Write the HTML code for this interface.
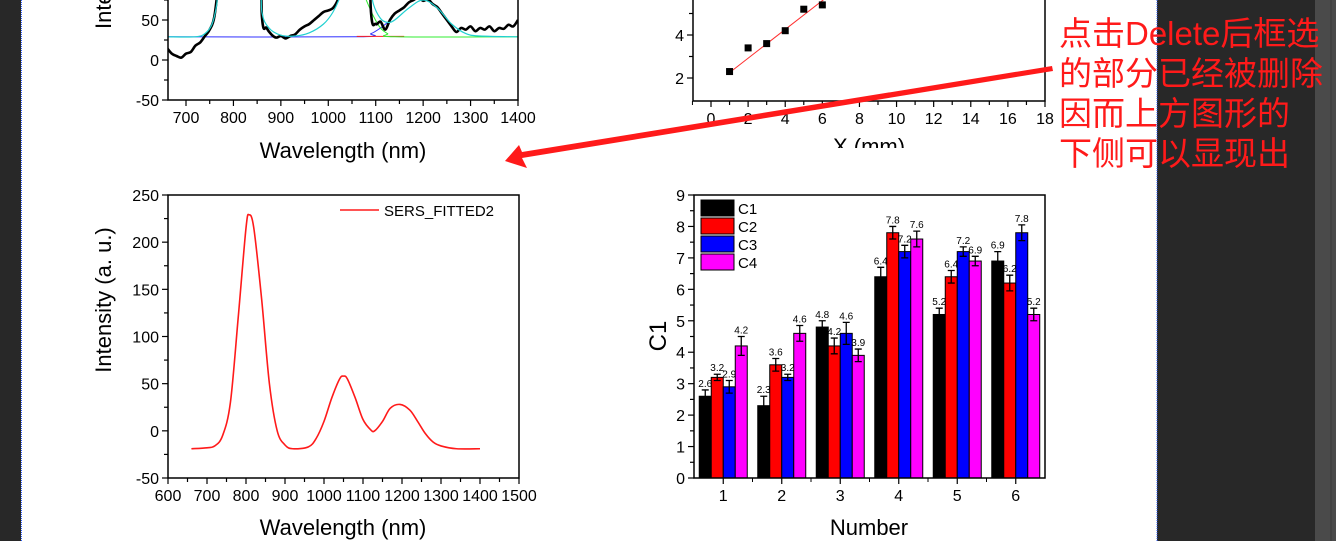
<!DOCTYPE html>
<html><head><meta charset="utf-8">
<style>
html,body{margin:0;padding:0;background:#fff;}
svg{display:block;font-family:"Liberation Sans","Noto Sans CJK SC",sans-serif;}
</style></head>
<body>
<svg id="s" width="1336" height="541" viewBox="0 0 1336 541" xmlns="http://www.w3.org/2000/svg">
<rect x="0" y="0" width="1336" height="541" fill="#fff"/>
<rect x="0" y="0" width="21" height="541" fill="#282828"/>
<line x1="21.5" y1="0" x2="21.5" y2="541" stroke="#3060ff" stroke-dasharray="1,1"/>
<rect x="1157" y="0" width="158" height="541" fill="#282828"/>
<rect x="1315" y="0" width="21" height="541" fill="#4a4a4a"/>
<line x1="1331" y1="0" x2="1331" y2="541" stroke="#3a3a3a"/>
<line x1="1157" y1="0" x2="1157" y2="541" stroke="#3060ff" stroke-dasharray="1,1"/>
<g id="g"></g>
</svg>
<script>
// ---------- Top-left spectrum data ----------
const specX = [660,670,680,690,700,710,720,730,740,750,760,770,780,850,860,870,880,890,900,910,920,930,940,950,960,970,980,990,1000,1010,1020,1030,1040,1080,1090,1100,1110,1120,1130,1140,1150,1160,1170,1180,1190,1200,1210,1220,1230,1240,1250,1260,1270,1280,1290,1300,1310,1320,1330,1340,1350,1360,1370,1380,1390,1400];
const specY = [15,8,5,3,8,10,18,22,30,38,55,110,200,200,55,40,32,28,30,27,30,32,38,42,45,50,55,60,62,65,75,95,200,200,60,45,48,38,50,58,62,66,72,75,78,74,76,70,66,58,50,42,35,40,38,42,36,40,38,42,36,40,39,44,42,50];
const fitX = [660,720,740,755,765,775,850,860,875,900,930,960,990,1010,1025,1035,1080,1095,1110,1125,1140,1170,1200,1230,1260,1290,1320,1400];
const fitY = [29,29,33,45,70,120,120,60,40,31,30,34,45,60,80,110,110,70,52,47,50,65,75,65,45,33,30,29];
const blueX = [660,1060,1090,1110,1125];
const blueY = [29,29,33,40,47];
const redX = [1060,1160];
const redY = [29.5,29.5];
const greenX = [1080,1095,1110,1125,1140,1400];
const greenY = [75,55,40,33,29,29];
// ---------- Top-right scatter data ----------
const ptX = [1,2,3,4,5,6];
const ptY = [2.3,3.4,3.6,4.2,5.2,5.4];
const lineX = [1,6.3];
const lineY = [2.25,5.8];
// ---------- Bottom-left fitted curve ----------
const curveX = [660,700,720,740,760,780,800,808,820,840,860,880,900,920,960,980,1000,1020,1040,1050,1060,1080,1100,1120,1130,1150,1170,1195,1220,1240,1260,1280,1300,1340,1400];
const curveY = [-19,-18,-16,-5,30,120,215,229,215,140,50,0,-15,-19,-17,-8,10,35,55,58,55,35,12,1,0,10,24,28,22,10,-3,-12,-16,-19,-19];
// ---------- Bar chart data ----------
const barCats = ["1","2","3","4","5","6"];
const seriesNames = ["C1","C2","C3","C4"];
const c1 = [2.6,2.3,4.8,6.4,5.2,6.9];
const c2 = [3.2,3.6,4.2,7.8,6.4,6.2];
const c3 = [2.9,3.2,4.6,7.2,7.2,7.8];
const c4 = [4.2,4.6,3.9,7.6,6.9,5.2];
const e1 = [0.2,0.3,0.2,0.3,0.2,0.3];
const e2 = [0.1,0.2,0.25,0.2,0.2,0.25];
const e3 = [0.2,0.1,0.35,0.2,0.15,0.25];
const e4 = [0.3,0.25,0.2,0.25,0.15,0.2];
const barLabels1 = ["2.6","2.3","4.8","6.4","5.2","6.9"];
const barLabels2 = ["3.2","3.6","4.2","7.8","6.4","6.2"];
const barLabels3 = ["2.9","3.2","4.6","7.2","7.2","7.8"];
const barLabels4 = ["4.2","4.6","3.9","7.6","6.9","5.2"];

const NS="http://www.w3.org/2000/svg";
const G=document.getElementById('g');
function mk(tag,attrs,parent){const e=document.createElementNS(NS,tag);for(const k in attrs)e.setAttribute(k,attrs[k]);(parent||G).appendChild(e);return e;}
function txt(x,y,s,size,anchor,parent){const t=mk('text',{x:x,y:y,'font-size':size,'text-anchor':anchor||'middle',fill:'#000'},parent);t.textContent=s;return t;}
function lin(a,b,c,d){return (v)=>c+(v-a)*(d-c)/(b-a);}
function smooth(pts){let d='M'+pts[0][0]+','+pts[0][1];for(let i=0;i<pts.length-1;i++){const p0=pts[Math.max(0,i-1)],p1=pts[i],p2=pts[i+1],p3=pts[Math.min(pts.length-1,i+2)];const c1x=p1[0]+(p2[0]-p0[0])/6,c1y=p1[1]+(p2[1]-p0[1])/6,c2x=p2[0]-(p3[0]-p1[0])/6,c2y=p2[1]-(p3[1]-p1[1])/6;d+=' C'+c1x+','+c1y+' '+c2x+','+c2y+' '+p2[0]+','+p2[1];}return d;}
function ticksX(g,sx,y0,from,to,step,minor,labels,fs){for(let v=from;v<=to+1e-9;v+=minor){const major=Math.abs((v-from)/step-Math.round((v-from)/step))<1e-6;const l=mk('line',{x1:sx(v),x2:sx(v),y1:y0,y2:y0+(major?6:4),stroke:'#000','stroke-width':1.2},g);if(major&&labels){const t=txt(sx(v),y0+23,String(Math.round(v*100)/100),fs||16,'middle',g);}}}
function ticksY(g,sy,x0,from,to,step,minor,fs,ylimTop){for(let v=from;v<=to+1e-9;v+=minor){const yy=sy(v);if(ylimTop!==undefined&&yy<ylimTop)continue;const major=Math.abs((v-from)/step-Math.round((v-from)/step))<1e-6;const l=mk('line',{x1:x0-(major?6:4),x2:x0,y1:yy,y2:yy,stroke:'#000','stroke-width':1.2},g);if(major){const t=txt(x0-9,yy+6,String(Math.round(v*100)/100),fs||16,'end',g);}}}

// ================= Top-left chart =================
(function(){
const g=mk('g',{});
const sx=lin(700,1400,186,518), sy=lin(0,50,60,20);
const L=168,R=518,B=100;
mk('defs',{},g).innerHTML='<clipPath id="c1"><rect x="168" y="0" width="350" height="100"/></clipPath>';
const pg=mk('g',{'clip-path':'url(#c1)'},g);
const lines=[[blueX,blueY,'#3030ff',1],[redX,redY,'#ff2020',1],[greenX,greenY,'#30ee30',1],[specX,specY,'#000',2.6],[fitX,fitY,'#20d0d0',1.2]];
const names=['baseline-blue','peak-red','peak-green','raw-spectrum','cumulative-fit'];
lines.forEach((s,i)=>{const p=mk('path',{d:smooth(s[0].map((x,j)=>[sx(x),sy(s[1][j])])),fill:'none',stroke:s[2],'stroke-width':s[3],'stroke-linejoin':'round'},pg);});
const ax=mk('path',{d:`M${L},0 V${B} H${R} V0`,fill:'none',stroke:'#000','stroke-width':1.5},g);
ticksX(g,sx,B,700,1400,100,50,true,16);
ticksY(g,sy,L,-50,100,50,25,16,0);
const xt=txt(343,158,'Wavelength (nm)',22,'middle',g);
const yt=txt(0,0,'Intensity (a. u.)',22,'start',g);yt.setAttribute('transform','translate(111,29) rotate(-90)');
})();

// ================= Top-right chart =================
(function(){
const g=mk('g',{});
const sx=lin(0,18,711,1045), sy=lin(2,4,78,35);
const L=693,R=1045,B=101;
mk('defs',{},g).innerHTML='<clipPath id="c2"><rect x="693" y="0" width="352" height="101"/></clipPath><clipPath id="c3"><rect x="600" y="0" width="500" height="148"/></clipPath>';
const pg=mk('g',{'clip-path':'url(#c2)'},g);
const fl=mk('line',{x1:sx(lineX[0]),y1:sy(lineY[0]),x2:sx(lineX[1]),y2:sy(lineY[1]),stroke:'#ff3030','stroke-width':1},pg);
ptX.forEach((x,i)=>{const r=mk('rect',{x:sx(x)-3.5,y:sy(ptY[i])-3.5,width:7,height:7,fill:'#000'},pg);});
const ax=mk('path',{d:`M${L},0 V${B} H${R} V0`,fill:'none',stroke:'#000','stroke-width':1.5},g);
ticksX(g,sx,B,0,18,2,1,true,16);
mk('line',{x1:sx(-1),x2:sx(-1),y1:B,y2:B+4,stroke:'#000'},g);
ticksY(g,sy,L,2,6,2,1,16,0);
const cg=mk('g',{'clip-path':'url(#c3)'},g);
const xt=txt(869,154,'X (mm)',22,'middle',cg);
})();

// ================= Bottom-left chart =================
(function(){
const g=mk('g',{});
const sx=lin(600,1500,168,519), sy=lin(-50,250,478,195);
const L=168,R=519,T=195,B=478;
const p=mk('path',{d:smooth(curveX.map((x,i)=>[sx(x),sy(curveY[i])])),fill:'none',stroke:'#ff1a1a','stroke-width':1.6},g);
const ax=mk('rect',{x:L,y:T,width:R-L,height:B-T,fill:'none',stroke:'#000','stroke-width':1.5},g);
ticksX(g,sx,B,600,1500,100,50,true,16);
ticksY(g,sy,L,-50,250,50,25,16);
const lg=mk('g',{},g);
mk('line',{x1:340,x2:379,y1:210,y2:210,stroke:'#ff1a1a','stroke-width':1.6},lg);
txt(384,216,'SERS_FITTED2',15,'start',lg);
const xt=txt(343,535,'Wavelength (nm)',22,'middle',g);
const yt=txt(0,0,'Intensity (a. u.)',22,'middle',g);yt.setAttribute('transform','translate(111,300) rotate(-90)');
})();

// ================= Bar chart =================
(function(){
const g=mk('g',{});
const sx=lin(0.5,6.5,694,1045), sy=lin(0,9,478,195);
const L=694,R=1045,T=195,B=478;
const vals=[c1,c2,c3,c4], errs=[e1,e2,e3,e4], labs=[barLabels1,barLabels2,barLabels3,barLabels4];
const cols=['#000','#ff0000','#0000ff','#ff00ff'];
const bw=12;
barCats.forEach((c,i)=>{
  const cx=sx(i+1);
  vals.forEach((sv,k)=>{
    const x=cx-2*bw+k*bw, y=sy(sv[i]);
    const r=mk('rect',{x:x,y:y,width:bw,height:B-y,fill:cols[k],stroke:'#000','stroke-width':1},g);
    
    
    const ec=x+bw/2, yt=sy(sv[i]+errs[k][i]), yb=sy(sv[i]-errs[k][i]);
    const eb=mk('path',{d:`M${ec},${yt} V${yb} M${ec-3.5},${yt} H${ec+3.5} M${ec-3.5},${yb} H${ec+3.5}`,stroke:'#000','stroke-width':1.3,fill:'none'},g);
    
    
    const t=txt(ec,yt-3,labs[k][i],10,'middle',g);
    
    
  });
});
const ax=mk('rect',{x:L,y:T,width:R-L,height:B-T,fill:'none',stroke:'#000','stroke-width':1.5},g);
barCats.forEach((c,i)=>{const x=sx(i+1);mk('line',{x1:x,x2:x,y1:B,y2:B+6,stroke:'#000','stroke-width':1.2},g);const t=txt(x,B+23,c,16,'middle',g);
 const m=sx(i+1.5);if(i<5)mk('line',{x1:m,x2:m,y1:B,y2:B+4,stroke:'#000'},g);});
ticksY(g,sy,L,0,9,1,0.5,16);
seriesNames.forEach((n,k)=>{const lg=mk('g',{},g);
 mk('rect',{x:701,y:200+k*18,width:33,height:16,fill:cols[k],stroke:'#000','stroke-width':1},lg);txt(738,214+k*18,n,15,'start',lg);});
const xt=txt(869,535,'Number',22,'middle',g);
const yt=txt(0,0,'C1',24,'middle',g);yt.setAttribute('transform','translate(666,336) rotate(-90)');
})();

// ================= Annotation =================
(function(){
const g=mk('g',{});
const ar=mk('polygon',{points:'1052,66 1053,71 522,158 527,168 505,161 519,145 522,152',fill:'#ff1a1a'},g);

const lines=['点击Delete后框选','的部分已经被删除','因而上方图形的','下侧可以显现出'];
lines.forEach((s,i)=>{const t=mk('text',{x:1059,y:45+i*40,'font-size':33,fill:'#ff1a1a','text-anchor':'start'},g);t.textContent=s;});
})();
</script>
</body></html>
